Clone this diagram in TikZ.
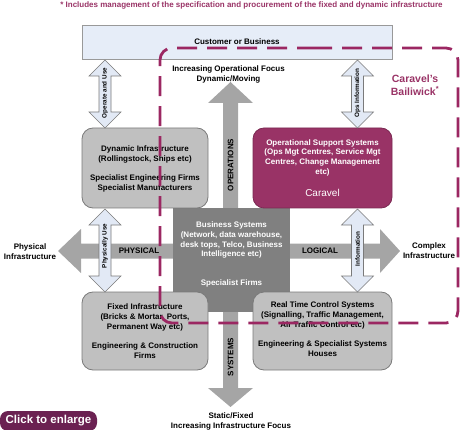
\documentclass[tikz,border=0pt]{standalone}
\usepackage{fontspec}
\setmainfont{Liberation Sans}
\usetikzlibrary{calc}
\definecolor{maroon}{HTML}{993366}
\definecolor{dashc}{HTML}{9B2762}
\definecolor{custfill}{HTML}{E6EDF8}
\definecolor{arrfill}{HTML}{E2E9F5}
\definecolor{boxgray}{HTML}{C0C0C0}
\definecolor{midgray}{HTML}{808080}
\definecolor{arrgray}{HTML}{A5A5A5}
\definecolor{edgegray}{HTML}{7A7A7A}
\definecolor{btn}{HTML}{6B2152}
\newcommand{\vdblarrow}[3]{%
  \path[dblarrow] (#1,#2) -- (#1+16,#2+16) -- (#1+6,#2+16) -- (#1+6,#3-16) -- (#1+16,#3-16) -- (#1,#3)
    -- (#1-16,#3-16) -- (#1-6,#3-16) -- (#1-6,#2+16) -- (#1-16,#2+16) -- cycle;}
\begin{document}
\begin{tikzpicture}[x=1pt,y=-1pt,
  every node/.style={inner sep=0pt, outer sep=0pt},
  txt/.style={font=\bfseries\fontsize{8}{10}\selectfont, align=center},
  smalltxt/.style={font=\bfseries\fontsize{6.3}{7}\selectfont, rotate=90},
  cbox/.style={draw=edgegray, fill=boxgray, rounded corners=11pt, line width=0.8pt},
  custbox/.style={draw=gray!80, fill=custfill, line width=1pt},
  dblarrow/.style={draw=edgegray, fill=arrfill, line width=0.6pt},
  bigarrow/.style={fill=arrgray},
  dashbound/.style={draw=dashc, line width=2.8pt, dash pattern=on 20pt off 10pt, rounded corners=12pt}
]
\useasboundingbox (0,0) rectangle (465,430);

% note
\node[font=\bfseries\fontsize{8}{9}\selectfont, text=maroon] (note) at (251.5,5.5)
  {* Includes management of the specification and procurement of the fixed and dynamic infrastructure};

% customer box
\node[custbox, minimum width=310, minimum height=34, txt] (cust) at (237,43) {};
\node[txt] (custtxt) at (237,42) {Customer or Business};

% big cross arrows
\path[bigarrow] (58,251) -- (81,229) -- (81,243.5) -- (380,243.5) -- (380,229) -- (400,251)
  -- (380,273) -- (380,258.5) -- (81,258.5) -- (81,273) -- cycle;
\path[bigarrow] (230.5,82) -- (253,103) -- (238,103) -- (238,388) -- (253,388) -- (230.5,407)
  -- (208,388) -- (223,388) -- (223,103) -- (208,103) -- cycle;

% centre box
\node[fill=midgray, minimum width=117, minimum height=104] (biz) at (231.5,260) {};
\node[txt, text=white, font=\bfseries\fontsize{8}{9.6}\selectfont] (biztxt) at (231.5,254.5)
  {Business Systems\\(Network, data warehouse,\\desk tops, Telco, Business\\Intelligence etc)\\[19pt]Specialist Firms};

% arrow labels
\node[txt] (physlbl) at (139,251) {PHYSICAL};
\node[txt] (loglbl) at (320,251) {LOGICAL};
\node[txt, rotate=90] (opslbl) at (230.5,165) {OPERATIONS};
\node[txt, rotate=90] (syslbl) at (230.5,357) {SYSTEMS};
\node[txt, font=\bfseries\fontsize{8}{9.5}\selectfont] (dynlbl) at (228.5,74.5) {Increasing Operational Focus\\Dynamic/Moving};
\node[txt, font=\bfseries\fontsize{8}{10}\selectfont] (statlbl) at (231,421) {Static/Fixed\\Increasing Infrastructure Focus};
\node[txt] (physinf) at (30,252) {Physical\\Infrastructure};
\node[txt] (cplxinf) at (429,251) {Complex\\Infrastructure};

% corner boxes
\node[cbox, minimum width=126, minimum height=80] (dyn) at (145,168) {};
\node[txt] (dyntxt) at (145,168.5) {Dynamic Infrastructure\\(Rollingstock, Ships etc)\\[9pt]Specialist Engineering Firms\\Specialist Manufacturers};

\node[cbox, draw=maroon!80!black, fill=maroon, minimum width=139, minimum height=80] (ops) at (322.5,168) {};
\node[txt, text=white, font=\bfseries\fontsize{8}{9.7}\selectfont] (opstxt) at (322.5,157.5)
  {Operational Support Systems\\(Ops Mgt Centres, Service Mgt\\Centres, Change Management\\etc)};
\node[text=white, font=\fontsize{10}{12}\selectfont] (caravel) at (322.5,193) {Caravel};

\node[cbox, minimum width=126, minimum height=78] (fixed) at (145,331) {};
\node[txt] (fixedtxt) at (145,331) {Fixed Infrastructure\\(Bricks \& Mortar, Ports,\\Permanent Way etc)\\[9pt]Engineering \& Construction\\Firms};

\node[cbox, minimum width=139, minimum height=78] (rt) at (322.5,331) {};
\node[txt] (rttxt) at (322.5,329.5) {Real Time Control Systems\\(Signalling, Traffic Management,\\Air Traffic Control etc)\\[9pt]Engineering \& Specialist Systems\\Houses};

% double arrows
\vdblarrow{105}{60}{128}
\node[smalltxt] (opuse) at (105,93) {Operate and Use};
\vdblarrow{357.5}{60}{128}
\node[smalltxt] (opsinfo) at (357.5,93) {Ops Information};
\vdblarrow{105}{209}{292}
\node[smalltxt] (physuse) at (105,246) {Physically Use};
\vdblarrow{357.5}{209}{292}
\node[smalltxt] (info) at (357.5,249) {Information};

% Caravel's bailiwick
\draw[dashbound] (300,48) -- (458,48) -- (458,323) -- (160,323) -- (160,48) -- cycle;
\node[font=\bfseries\fontsize{10.5}{13}\selectfont, text=maroon, align=center] (bail) at (415,85.5)
  {Caravel’s\\Bailiwick\textsuperscript{*}};

% button
\node[fill=btn, rounded corners=8pt, text=white, font=\bfseries\fontsize{11.5}{12}\selectfont,
  minimum width=97, minimum height=20] (btnnode) at (48.5,421) {Click to enlarge};
\end{tikzpicture}
\end{document}
